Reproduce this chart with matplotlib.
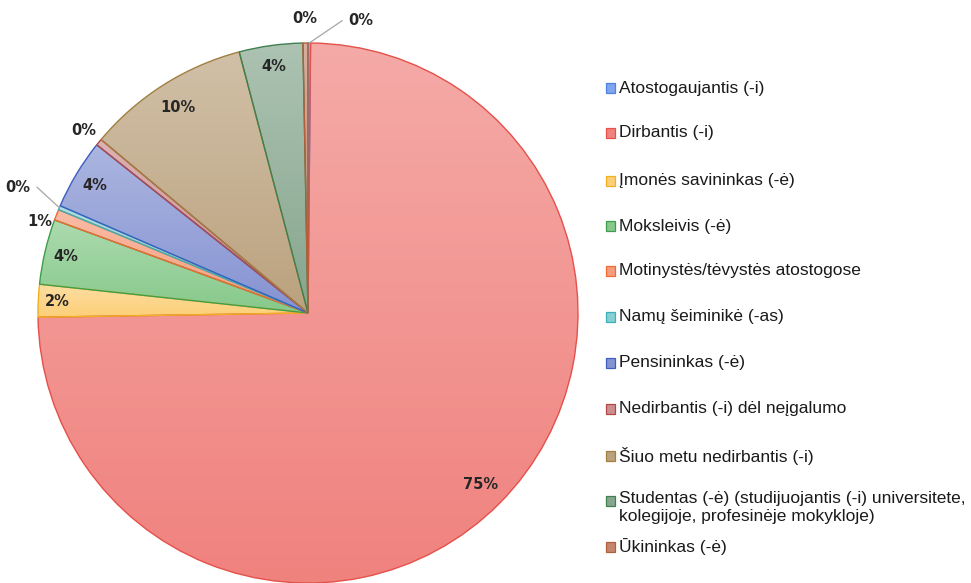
import numpy as np
import matplotlib.pyplot as plt
import matplotlib.colors as mcolors
from matplotlib.patches import Rectangle

# data (percent of respondents)
categories = [
    'Atostogaujantis (-i)',
    'Dirbantis (-i)',
    'Įmonės savininkas (-ė)',
    'Moksleivis (-ė)',
    'Motinystės/tėvystės atostogose',
    'Namų šeiminikė (-as)',
    'Pensininkas (-ė)',
    'Nedirbantis (-i) dėl neįgalumo',
    'Šiuo metu nedirbantis (-i)',
    'Studentas (-ė) (studijuojantis (-i) universitete,\nkolegijoje, profesinėje mokykloje)',
    'Ūkininkas (-ė)',
]
values = [0.15, 74.6, 1.95, 3.9, 0.65, 0.25, 4.2, 0.4, 9.8, 3.8, 0.3]

# fill (bottom of gradient) and edge colours
fills = ['#7FA5EE', '#F0827E', '#FCCF78', '#86C98A', '#F79C7C', '#86CFD4',
         '#8593D2', '#CC8E8E', '#BBA27E', '#86A68E', '#C4866C']
edges = ['#4F81E0', '#E5504A', '#F0B020', '#3E9E4C', '#EE6A30', '#3CB0B8',
         '#3C5EC0', '#B04848', '#A08040', '#3F7F50', '#B0603A']

# label placement (radius as fraction of pie radius, angle tweak in degrees)
label_r = [1.10, 0.90, 0.93, 0.92, 1.05, 1.17, 0.92, 1.07, 0.90, 0.92, 1.09]
label_dt = [-10, 0, 0, 0, 2.5, -0.5, 0, 0, 0, 0, 0]
leader = [True, False, False, False, False, True, False, False, False, False, False]

W, H = 971, 583
fig = plt.figure(figsize=(W / 100, H / 100), dpi=100)
cx, cy, R = 308, 313, 270
ax = fig.add_axes([(cx - R) / W, (H - cy - R) / H, 2 * R / W, 2 * R / H])

wedges, _ = ax.pie(values, startangle=90, counterclock=False, radius=1,
                   colors=fills, wedgeprops=dict(linewidth=1.0))
ax.set_aspect('equal')
ax.axis('off')

# vertical gradient inside each slice, lighter at the top
for w, fc, ec in zip(wedges, fills, edges):
    base = np.array(mcolors.to_rgb(fc))
    top = base + (1 - base) * 0.32
    grad = np.linspace(0, 1, 256)[:, None]
    img = top[None, None, :] * (1 - grad[:, :, None]) + base[None, None, :] * grad[:, :, None]
    ext = w.get_path().get_extents()
    im = ax.imshow(img, extent=[ext.x0, ext.x1, ext.y0, ext.y1], origin='upper',
                   aspect='auto', zorder=1, interpolation='bilinear')
    im.set_clip_path(w)
    w.set_facecolor('none')
    w.set_edgecolor(ec)
    w.set_zorder(2)
ax.set_xlim(-1, 1)
ax.set_ylim(-1, 1)

total = sum(values)
for i, w in enumerate(wedges):
    mid = np.deg2rad((w.theta1 + w.theta2) / 2)
    ang = mid + np.deg2rad(label_dt[i])
    r = label_r[i]
    tx, ty = r * np.cos(ang), r * np.sin(ang)
    txt = f"{values[i] / total * 100:.0f}%"
    ax.text(tx, ty, txt, ha='center', va='center', fontsize=10.5,
            fontweight='bold', color='#262626', zorder=5)
    if leader[i]:
        x0, y0 = np.cos(mid), np.sin(mid)
        if tx > x0:
            x1 = tx - 0.07
        else:
            x1 = tx + 0.07
        ax.plot([x0, x1], [y0, ty], color='#A6A6A6', lw=0.9, zorder=4, clip_on=False)

# legend drawn by hand to follow the original spacing
row_y = [88, 133, 181, 226, 271, 317, 363, 409, 456, 501, 547]
for lab, fc, ec, y in zip(categories, fills, edges, row_y):
    fig.patches.append(Rectangle(((606) / W, 1 - (y + 5) / H), 9 / W, 10 / H,
                                 transform=fig.transFigure, facecolor=fc,
                                 edgecolor=ec, linewidth=0.9))
    if '\n' in lab:
        fig.text(619 / W, 1 - (y - 10) / H, lab, ha='left', va='top',
                 fontsize=12.5, family='Liberation Sans', color='#1a1a1a',
                 linespacing=1.25)
    else:
        fig.text(619 / W, 1 - y / H, lab, ha='left', va='center',
                 fontsize=12.5, family='Liberation Sans', color='#1a1a1a')

fig.savefig('out.png', dpi=100)
